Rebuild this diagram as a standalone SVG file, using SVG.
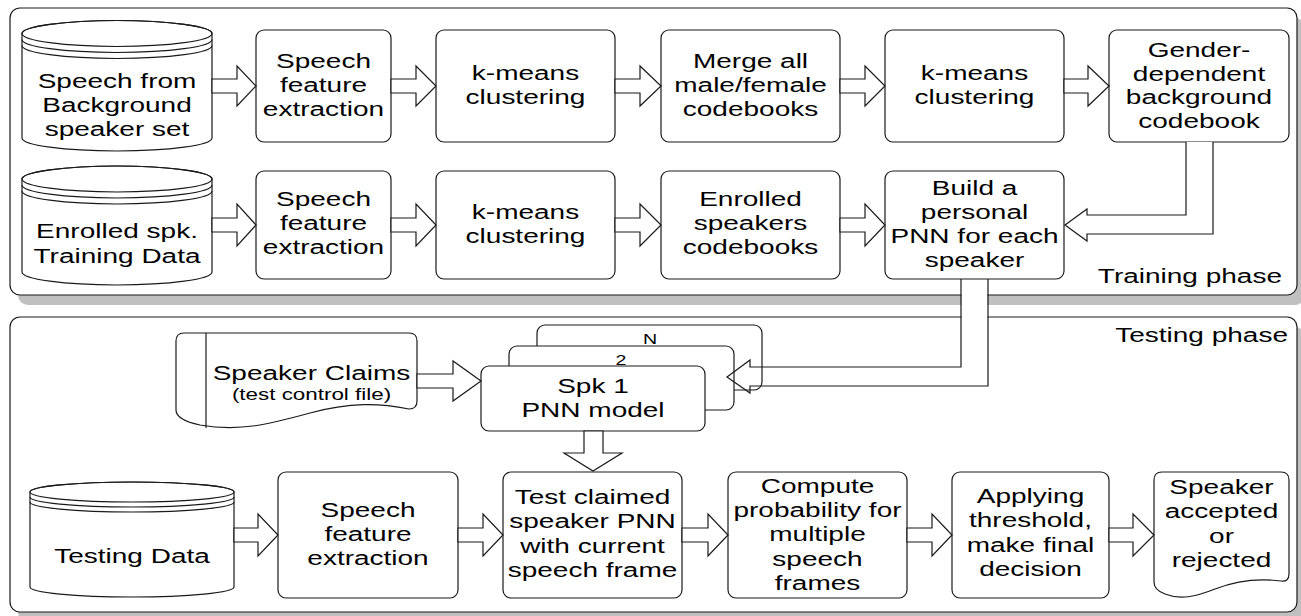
<svg xmlns="http://www.w3.org/2000/svg" width="1301" height="616" viewBox="0 0 1301 616">
  <style>
    .panel { fill: #ffffff; stroke: #1a1a1a; stroke-width: 1.2; }
    .shadow { fill: #c0c0c0; }
    .box { fill: #ffffff; stroke: #1a1a1a; stroke-width: 1.2; }
    .line { fill: none; stroke: #1a1a1a; stroke-width: 1.2; }
    .arrow { fill: #ffffff; stroke: #1a1a1a; stroke-width: 1.2; stroke-linejoin: miter; }
    .arrow-open { fill: none; stroke: #1a1a1a; stroke-width: 1.2; stroke-linejoin: miter; }
    .t { font-family: "Liberation Sans", Arial, sans-serif; font-size: 20px; fill: #000000; text-anchor: middle; }
    .ts { font-family: "Liberation Sans", Arial, sans-serif; font-size: 16px; fill: #000000; text-anchor: middle; }
    .tn { font-family: "Liberation Sans", Arial, sans-serif; font-size: 14px; fill: #000000; text-anchor: middle; }
    .te { font-family: "Liberation Sans", Arial, sans-serif; font-size: 20px; fill: #000000; text-anchor: end; }
  </style>

  <!-- Phase panels with drop shadows -->
  <g id="training-panel">
    <rect class="shadow" x="18" y="18" width="1287" height="287" rx="10"/>
    <rect class="panel" x="10" y="8" width="1287" height="287" rx="10"/>
    <text class="te" transform="translate(1282,0) scale(1.4,1)"><tspan x="0" y="283">Training phase</tspan></text>
  </g>
  <g id="testing-panel">
    <rect class="shadow" x="18" y="327" width="1287" height="295" rx="10"/>
    <rect class="panel" x="10" y="317" width="1287" height="295" rx="10"/>
    <text class="te" transform="translate(1288,0) scale(1.4,1)"><tspan x="0" y="342">Testing phase</tspan></text>
  </g>

  <!-- Training row 1 -->
  <g id="bg-speech">
    <path class="box" d="M22,33.5 V138 A95,13 0 0 0 212,138 V33.5 A95,13 0 0 0 22,33.5 Z"/>
    <ellipse class="line" cx="117" cy="33.5" rx="95" ry="13"/>
    <path class="line" d="M22,39.5 A95,13 0 0 0 212,39.5 M22,45.5 A95,13 0 0 0 212,45.5"/>
    <text class="t" transform="translate(117,0) scale(1.4,1)"><tspan x="0" y="88">Speech from</tspan><tspan x="0" y="112">Background</tspan><tspan x="0" y="136">speaker set</tspan></text>
  </g>
  <g id="feat1">
    <rect class="box" x="256" y="30" width="135" height="112" rx="8"/>
    <text class="t" transform="translate(323.5,0) scale(1.4,1)"><tspan x="0" y="68">Speech</tspan><tspan x="0" y="92">feature</tspan><tspan x="0" y="116">extraction</tspan></text>
  </g>
  <g id="kmeans1">
    <rect class="box" x="436" y="30" width="179" height="112" rx="8"/>
    <text class="t" transform="translate(525.5,0) scale(1.4,1)"><tspan x="0" y="80">k-means</tspan><tspan x="0" y="104">clustering</tspan></text>
  </g>
  <g id="merge">
    <rect class="box" x="661" y="30" width="179" height="112" rx="8"/>
    <text class="t" transform="translate(750.5,0) scale(1.4,1)"><tspan x="0" y="68">Merge all</tspan><tspan x="0" y="92">male/female</tspan><tspan x="0" y="116">codebooks</tspan></text>
  </g>
  <g id="kmeans2">
    <rect class="box" x="885" y="30" width="179" height="112" rx="8"/>
    <text class="t" transform="translate(974.5,0) scale(1.4,1)"><tspan x="0" y="80">k-means</tspan><tspan x="0" y="104">clustering</tspan></text>
  </g>
  <g id="gender-codebook">
    <rect class="box" x="1109" y="30" width="180" height="112" rx="8"/>
    <text class="t" transform="translate(1199,0) scale(1.4,1)"><tspan x="0" y="57">Gender-</tspan><tspan x="0" y="80.7">dependent</tspan><tspan x="0" y="104.4">background</tspan><tspan x="0" y="128">codebook</tspan></text>
  </g>

  <!-- Training row 2 -->
  <g id="enrolled-data">
    <path class="box" d="M22,179 V272 A95,13 0 0 0 212,272 V179 A95,13 0 0 0 22,179 Z"/>
    <ellipse class="line" cx="117" cy="179" rx="95" ry="13"/>
    <path class="line" d="M22,185 A95,13 0 0 0 212,185 M22,191 A95,13 0 0 0 212,191"/>
    <text class="t" transform="translate(117,0) scale(1.4,1)"><tspan x="0" y="238">Enrolled spk.</tspan><tspan x="0" y="263">Training Data</tspan></text>
  </g>
  <g id="feat2">
    <rect class="box" x="256" y="171" width="135" height="108" rx="8"/>
    <text class="t" transform="translate(323.5,0) scale(1.4,1)"><tspan x="0" y="206">Speech</tspan><tspan x="0" y="230">feature</tspan><tspan x="0" y="254">extraction</tspan></text>
  </g>
  <g id="kmeans3">
    <rect class="box" x="436" y="171" width="179" height="108" rx="8"/>
    <text class="t" transform="translate(525.5,0) scale(1.4,1)"><tspan x="0" y="219">k-means</tspan><tspan x="0" y="243">clustering</tspan></text>
  </g>
  <g id="enrolled-codebooks">
    <rect class="box" x="661" y="171" width="179" height="108" rx="8"/>
    <text class="t" transform="translate(750.5,0) scale(1.4,1)"><tspan x="0" y="206">Enrolled</tspan><tspan x="0" y="230">speakers</tspan><tspan x="0" y="254">codebooks</tspan></text>
  </g>
  <g id="build-pnn">
    <rect class="box" x="885" y="171" width="179" height="108" rx="8"/>
    <text class="t" transform="translate(974.5,0) scale(1.4,1)"><tspan x="0" y="195">Build a</tspan><tspan x="0" y="219">personal</tspan><tspan x="0" y="243">PNN for each</tspan><tspan x="0" y="267">speaker</tspan></text>
  </g>

  <!-- Testing phase: claims and stacked speaker models -->
  <g id="speaker-claims">
    <path class="box" d="M184,333 H409 Q417,333 417,341 V401 Q417,409 409,409 C380,403 350,402 310,413 C270,424 240,432 200,425 Q176,420 176,410 V341 Q176,333 184,333 Z"/>
    <path class="line" d="M206,333 V428"/>
    <text class="t" transform="translate(311.5,0) scale(1.4,1)"><tspan x="0" y="380">Speaker Claims</tspan></text>
    <text class="ts" transform="translate(311.5,0) scale(1.4,1)"><tspan x="0" y="400">(test control file)</tspan></text>
  </g>
  <g id="pnn-n">
    <rect class="box" x="537" y="325" width="225" height="65" rx="8"/>
    <text class="tn" transform="translate(650,0) scale(1.4,1)"><tspan x="0" y="344">N</tspan></text>
  </g>
  <g id="pnn-2">
    <rect class="box" x="509" y="346" width="225" height="64" rx="8"/>
    <text class="tn" transform="translate(621,0) scale(1.4,1)"><tspan x="0" y="365">2</tspan></text>
  </g>
  <g id="pnn-1">
    <rect class="box" x="481" y="366" width="224" height="65" rx="8"/>
    <text class="t" transform="translate(593,0) scale(1.4,1)"><tspan x="0" y="393">Spk 1</tspan><tspan x="0" y="417">PNN model</tspan></text>
  </g>

  <!-- Testing row -->
  <g id="testing-data">
    <path class="box" d="M30,492 V587 A102,10 0 0 0 234,587 V492 A102,10 0 0 0 30,492 Z"/>
    <ellipse class="line" cx="132" cy="492" rx="102" ry="10"/>
    <path class="line" d="M30,497 A102,10 0 0 0 234,497 M30,502 A102,10 0 0 0 234,502"/>
    <text class="t" transform="translate(132,0) scale(1.4,1)"><tspan x="0" y="563">Testing Data</tspan></text>
  </g>
  <g id="feat3">
    <rect class="box" x="278" y="472" width="180" height="126" rx="8"/>
    <text class="t" transform="translate(368,0) scale(1.4,1)"><tspan x="0" y="517">Speech</tspan><tspan x="0" y="541">feature</tspan><tspan x="0" y="565">extraction</tspan></text>
  </g>
  <g id="test-claimed">
    <rect class="box" x="503" y="472" width="179" height="126" rx="8"/>
    <text class="t" transform="translate(592.5,0) scale(1.4,1)"><tspan x="0" y="504">Test claimed</tspan><tspan x="0" y="528.3">speaker PNN</tspan><tspan x="0" y="552.6">with current</tspan><tspan x="0" y="577">speech frame</tspan></text>
  </g>
  <g id="compute-prob">
    <rect class="box" x="728" y="472" width="179" height="126" rx="8"/>
    <text class="t" transform="translate(817.5,0) scale(1.4,1)"><tspan x="0" y="493">Compute</tspan><tspan x="0" y="517.2">probability for</tspan><tspan x="0" y="541.5">multiple</tspan><tspan x="0" y="565.8">speech</tspan><tspan x="0" y="590">frames</tspan></text>
  </g>
  <g id="threshold">
    <rect class="box" x="952" y="472" width="157" height="126" rx="8"/>
    <text class="t" transform="translate(1030.5,0) scale(1.4,1)"><tspan x="0" y="503">Applying</tspan><tspan x="0" y="527.5">threshold,</tspan><tspan x="0" y="552">make final</tspan><tspan x="0" y="576.5">decision</tspan></text>
  </g>
  <g id="decision-doc">
    <path class="box" d="M1162,472 H1281 Q1289,472 1289,480 V574 Q1289,582 1281,581 C1258,578 1238,580 1215,589 C1195,597 1180,600 1165,594 Q1154,590 1154,582 V480 Q1154,472 1162,472 Z"/>
    <text class="t" transform="translate(1221.5,0) scale(1.4,1)"><tspan x="0" y="494">Speaker</tspan><tspan x="0" y="518.3">accepted</tspan><tspan x="0" y="542.6">or</tspan><tspan x="0" y="567">rejected</tspan></text>
  </g>

  <!-- Block-arrow connectors -->
  <g id="connectors">
    <!-- training row 1 -->
    <path class="arrow" d="M212,79 H237 V66 L256,86 L237,106 V93 H212 Z"/>
    <path class="arrow" d="M391,79 H416 V66 L436,86 L416,106 V93 H391 Z"/>
    <path class="arrow" d="M615,79 H640 V66 L661,86 L640,106 V93 H615 Z"/>
    <path class="arrow" d="M840,79 H865 V66 L885,86 L865,106 V93 H840 Z"/>
    <path class="arrow" d="M1064,79 H1088 V66 L1109,86 L1088,106 V93 H1064 Z"/>
    <!-- training row 2 -->
    <path class="arrow" d="M212,218 H237 V204 L256,225 L237,246 V232 H212 Z"/>
    <path class="arrow" d="M391,218 H416 V204 L436,225 L416,246 V232 H391 Z"/>
    <path class="arrow" d="M615,218 H640 V204 L661,225 L640,246 V232 H615 Z"/>
    <path class="arrow" d="M840,218 H865 V204 L885,225 L865,246 V232 H840 Z"/>
    <!-- background codebook into personal PNN builder -->
    <path class="arrow" d="M1186,142 V215 H1087 V209 L1065,225 L1087,241 V234 H1213 V142"/>
    <!-- personal PNN down into the speaker model stack -->
    <rect x="961.6" y="280" width="25.8" height="105.4" fill="#ffffff"/>
    <path class="arrow-open" d="M961,279 V367 H750 V360 L727,377 L750,393 V386 H988 V279"/>
    <!-- claims into model -->
    <path class="arrow" d="M417,374 H453 V361 L481,381 L453,401 V388 H417 Z"/>
    <!-- model down to scoring -->
    <path class="arrow" d="M584,431 V453 H564 L593,471 L622,453 H603 V431 Z"/>
    <!-- testing row -->
    <path class="arrow" d="M234,528 H258 V514 L278,535 L258,556 V542 H234 Z"/>
    <path class="arrow" d="M458,528 H483 V514 L503,535 L483,556 V542 H458 Z"/>
    <path class="arrow" d="M682,528 H708 V514 L728,535 L708,556 V542 H682 Z"/>
    <path class="arrow" d="M907,528 H932 V514 L952,535 L932,556 V542 H907 Z"/>
    <path class="arrow" d="M1109,528 H1133 V514 L1154,535 L1133,556 V542 H1109 Z"/>
  </g>
</svg>
